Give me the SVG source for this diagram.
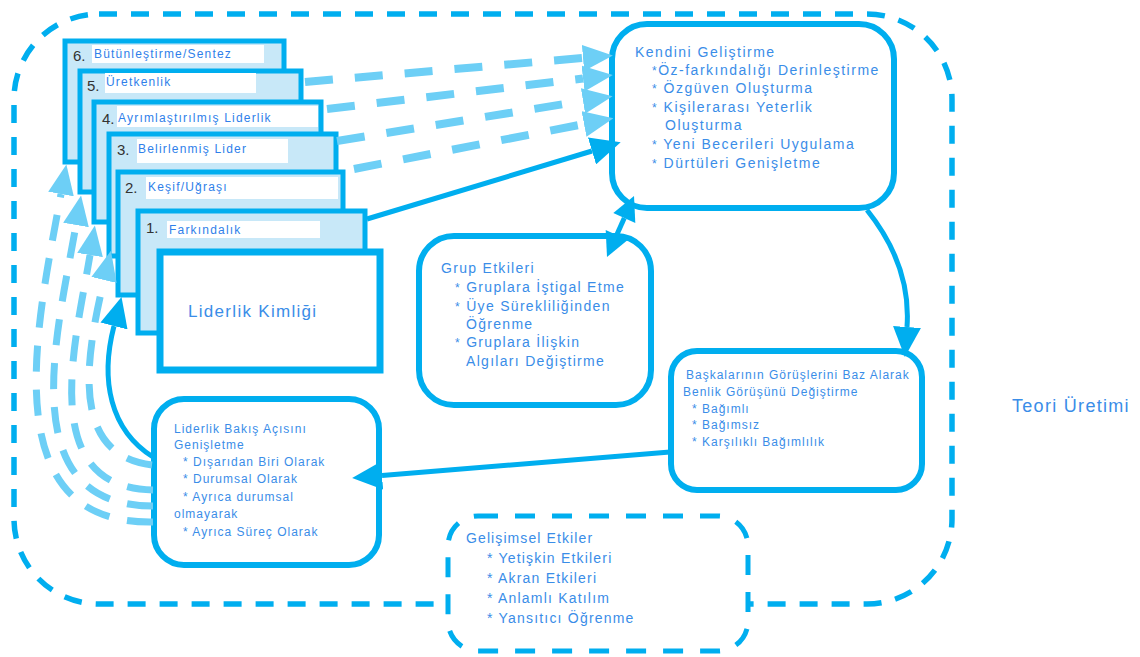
<svg xmlns="http://www.w3.org/2000/svg" width="1140" height="657" viewBox="0 0 1140 657">
<defs>
<style>
.box{fill:#fff;stroke:#00AEEF;stroke-width:6}
.card{fill:#C8E8F8;stroke:#00AEEF;stroke-width:5}
.lbl{fill:#fff}
.t{font-family:"Liberation Sans",Arial,sans-serif;fill:#3A8DE8}
.k{font-size:14px;letter-spacing:1.5px}
.g{font-size:14px;letter-spacing:1.3px}
.s{font-size:12px;letter-spacing:1px}
.c{font-size:12px;letter-spacing:1.2px;fill:#2F7FEA}
.b{font-size:12px}
.num{font-family:"Liberation Sans",Arial,sans-serif;font-size:15px;fill:#333}
.dl{fill:none;stroke:#6DCFF6;stroke-width:8;stroke-dasharray:28 22}
.dc{fill:none;stroke:#6DCFF6;stroke-width:7;stroke-dasharray:26 18}
.sl{fill:none;stroke:#00AEEF;stroke-width:5}
.dash{fill:none;stroke:#00AEEF;stroke-width:5.5;stroke-dasharray:18 14}
</style>
<marker id="hl" markerUnits="userSpaceOnUse" viewBox="0 0 30 26" markerWidth="30" markerHeight="26" refX="0" refY="13" orient="auto"><path d="M0,0 L30,13 L0,26 z" fill="#6DCFF6"/></marker>
<marker id="hs" markerUnits="userSpaceOnUse" viewBox="0 0 30 28" markerWidth="30" markerHeight="28" refX="0" refY="14" orient="auto"><path d="M0,0 L30,14 L0,28 z" fill="#00AEEF"/></marker>
</defs>
<rect width="1140" height="657" fill="#fff"/>

<g id="frame">
<rect class="dash" x="14" y="14" width="938" height="590" rx="85" ry="85"/>
<text class="t" x="1012" y="412" font-size="18" letter-spacing="1.3">Teori Üretimi</text>
</g>

<g id="stack">
<g id="card6"><rect class="card" x="65" y="41" width="219" height="121"/><rect class="lbl" x="92" y="45" width="172" height="18"/><text class="num" x="73" y="61">6.</text><text class="t c" x="94" y="58">Bütünleştirme/Sentez</text></g>
<g id="card5"><rect class="card" x="80" y="71" width="221" height="121"/><rect class="lbl" x="105" y="73" width="151" height="20"/><text class="num" x="87" y="91">5.</text><text class="t c" x="106" y="86">Üretkenlik</text></g>
<g id="card4"><rect class="card" x="94" y="102" width="227" height="120"/><rect class="lbl" x="117" y="106" width="201" height="21"/><text class="num" x="102" y="124">4.</text><text class="t c" x="118" y="122">Ayrımlaştırılmış Liderlik</text></g>
<g id="card3"><rect class="card" x="109" y="134" width="227" height="122"/><rect class="lbl" x="137" y="139" width="151" height="24"/><text class="num" x="117" y="155">3.</text><text class="t c" x="138" y="153">Belirlenmiş Lider</text></g>
<g id="card2"><rect class="card" x="118" y="172" width="225" height="123"/><rect class="lbl" x="146" y="177" width="192" height="22"/><text class="num" x="125" y="193">2.</text><text class="t c" x="148" y="191">Keşif/Uğraşı</text></g>
<g id="card1"><rect class="card" x="138" y="211" width="227" height="122"/><rect class="lbl" x="167" y="221" width="153" height="17"/><text class="num" x="146" y="233">1.</text><text class="t c" x="169" y="234">Farkındalık</text></g>
<g id="kimlik"><rect x="160" y="252" width="220" height="118" fill="#fff" stroke="#00AEEF" stroke-width="7"/><text class="t" x="188" y="317" font-size="17" letter-spacing="1.3">Liderlik Kimliği</text></g>
</g>

<g id="kendini">
<rect class="box" x="612" y="24" width="282" height="184" rx="35" ry="35"/>
<text class="t k" x="635" y="57">Kendini Geliştirme</text>
<text class="t k" x="652" y="75"><tspan class="b">*</tspan>Öz-farkındalığı Derinleştirme</text>
<text class="t k" x="652" y="93"><tspan class="b">*</tspan> Özgüven Oluşturma</text>
<text class="t k" x="652" y="112"><tspan class="b">*</tspan> Kişilerarası Yeterlik</text>
<text class="t k" x="665" y="130">Oluşturma</text>
<text class="t k" x="652" y="149"><tspan class="b">*</tspan> Yeni Becerileri Uygulama</text>
<text class="t k" x="652" y="168"><tspan class="b">*</tspan> Dürtüleri Genişletme</text>
</g>

<g id="grup">
<rect class="box" x="419" y="236" width="232" height="169" rx="35" ry="35"/>
<text class="t g" x="441" y="273">Grup Etkileri</text>
<text class="t g" x="455" y="292"><tspan class="b">*</tspan> Gruplara İştigal Etme</text>
<text class="t g" x="455" y="311"><tspan class="b">*</tspan> Üye Sürekliliğinden</text>
<text class="t g" x="466" y="329">Öğrenme</text>
<text class="t g" x="455" y="347"><tspan class="b">*</tspan> Gruplara İlişkin</text>
<text class="t g" x="466" y="366">Algıları Değiştirme</text>
</g>

<g id="baskalari">
<rect class="box" x="671" y="351" width="251" height="139" rx="26" ry="26"/>
<text class="t s" x="686" y="379">Başkalarının Görüşlerini Baz Alarak</text>
<text class="t s" x="683" y="396">Benlik Görüşünü Değiştirme</text>
<text class="t s" x="692" y="413">* Bağımlı</text>
<text class="t s" x="692" y="429">* Bağımsız</text>
<text class="t s" x="692" y="446">* Karşılıklı Bağımlılık</text>
</g>

<g id="bakis">
<rect class="box" x="154" y="399" width="225" height="166" rx="30" ry="30"/>
<text class="t s" x="174" y="433">Liderlik Bakış Açısını</text>
<text class="t s" x="174" y="449">Genişletme</text>
<text class="t s" x="183" y="466">* Dışarıdan Biri Olarak</text>
<text class="t s" x="183" y="483">* Durumsal Olarak</text>
<text class="t s" x="183" y="501">* Ayrıca durumsal</text>
<text class="t s" x="174" y="518">olmayarak</text>
<text class="t s" x="183" y="536">* Ayrıca Süreç Olarak</text>
</g>

<g id="gelisimsel">
<rect x="448" y="516" width="300" height="135" rx="30" ry="30" fill="#fff" stroke="#00AEEF" stroke-width="5" stroke-dasharray="20 17"/>
<text class="t" x="466" y="543" font-size="14" letter-spacing="1.1">Gelişimsel Etkiler</text>
<text class="t" x="487" y="563" font-size="14" letter-spacing="1.2">* Yetişkin Etkileri</text>
<text class="t" x="487" y="583" font-size="14" letter-spacing="1.2">* Akran Etkileri</text>
<text class="t" x="487" y="603" font-size="14" letter-spacing="1.2">* Anlamlı Katılım</text>
<text class="t" x="487" y="623" font-size="14" letter-spacing="1.2">* Yansıtıcı Öğrenme</text>
</g>

<g id="connectors">
<path class="dl" d="M305,82 L583,58" marker-end="url(#hl)"/>
<path class="dl" d="M327,109 L583,78.5" marker-end="url(#hl)"/>
<path class="dl" d="M337,141 L583,101" marker-end="url(#hl)"/>
<path class="dl" d="M354,169 L584,124" marker-end="url(#hl)"/>
<path class="sl" d="M367,219 L592,151" marker-end="url(#hs)"/>
<path class="sl" d="M616.7,235 L624.3,218"/>
<polygon points="634,196 635.3,222.9 613.3,213.1" fill="#00AEEF"/>
<polygon points="607,257 627.7,239.9 605.7,230.1" fill="#00AEEF"/>
<path class="sl" d="M867,210 C895,245 910,285 907,327" marker-end="url(#hs)"/>
<path class="sl" d="M670,452 L382,475.6" marker-end="url(#hs)"/>
<path class="sl" d="M153,457 C110,430 100,380 114,326" marker-end="url(#hs)"/>
<path class="dc" d="M153,522 C-10,525 38,320 61,194" marker-end="url(#hl)"/>
<path class="dc" d="M153,506 C10,506 58,330 76,225" marker-end="url(#hl)"/>
<path class="dc" d="M153,490 C35,488 76,340 90,255" marker-end="url(#hl)"/>
<path class="dc" d="M152,465 C70,455 85,360 104,280" marker-end="url(#hl)"/>
</g>
</svg>
